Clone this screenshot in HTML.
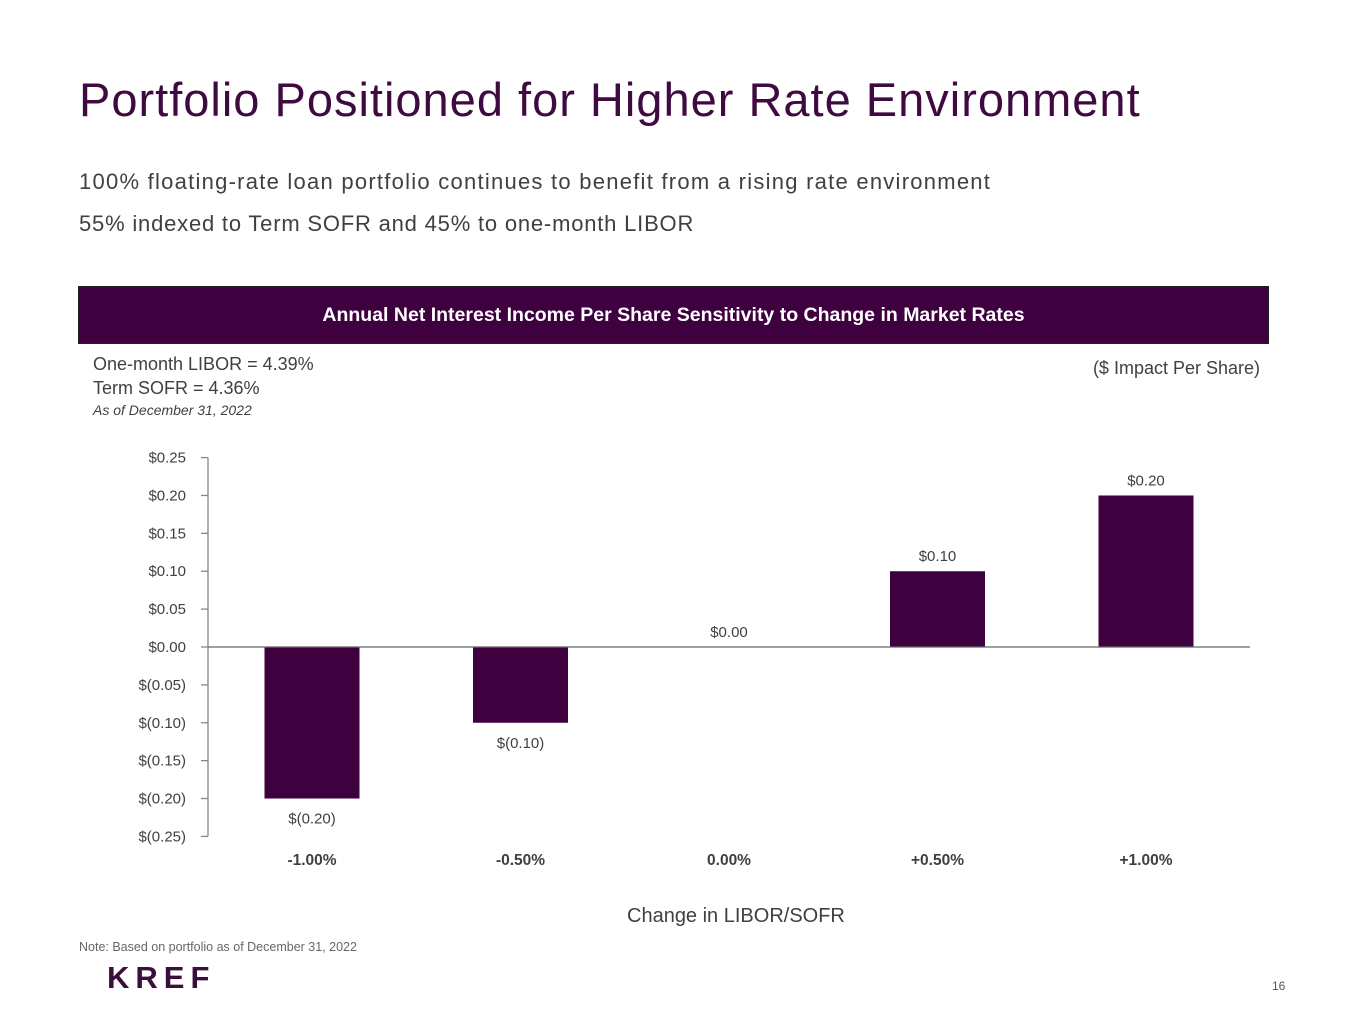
<!DOCTYPE html>
<html><head><meta charset="utf-8"><style>
body{margin:0;width:1365px;height:1024px;background:#fff;font-family:"Liberation Sans",sans-serif;position:relative;overflow:hidden}
.a{position:absolute;white-space:nowrap}
</style></head><body>
<div class="a" style="left:79px;top:72px;font-size:47px;color:#3f0a40;letter-spacing:1px">Portfolio Positioned for Higher Rate Environment</div>
<div class="a" style="left:79px;top:169px;font-size:22px;color:#404040;letter-spacing:1.25px">100% floating-rate loan portfolio continues to benefit from a rising rate environment</div>
<div class="a" style="left:79px;top:211px;font-size:22px;color:#404040;letter-spacing:0.8px">55% indexed to Term SOFR and 45% to one-month LIBOR</div>
<div class="a" style="left:78px;top:286px;width:1189px;height:56px;background:#3f0040;border:1px solid #222;color:#fff;font-weight:bold;font-size:19.5px;text-align:center;line-height:56px">Annual Net Interest Income Per Share Sensitivity to Change in Market Rates</div>
<div class="a" style="left:93px;top:354px;font-size:18px;color:#404040">One-month LIBOR = 4.39%</div>
<div class="a" style="left:93px;top:378px;font-size:18px;color:#404040">Term SOFR = 4.36%</div>
<div class="a" style="left:93px;top:402px;font-size:14px;font-style:italic;color:#404040">As of December 31, 2022</div>
<div class="a" style="right:105px;top:358px;font-size:18px;color:#404040">($ Impact Per Share)</div>
<svg class="a" id="chart" style="left:0;top:0" width="1365" height="1024"></svg>
<div class="a" style="left:627px;top:905px;font-size:20px;color:#404040">Change in LIBOR/SOFR</div>
<div class="a" style="left:79px;top:940px;font-size:12.5px;color:#666">Note: Based on portfolio as of December 31, 2022</div>
<div class="a" style="left:107px;top:960px;font-size:31px;font-weight:bold;color:#3a0f3c;letter-spacing:6px">KREF</div>
<div class="a" style="left:1272px;top:979px;font-size:12px;color:#555">16</div>
<script>
const categories=["-1.00%","-0.50%","0.00%","+0.50%","+1.00%"];
const values=[-0.20,-0.10,0.00,0.10,0.20];
const valueLabels=["$(0.20)","$(0.10)","$0.00","$0.10","$0.20"];
const ticks=[0.25,0.20,0.15,0.10,0.05,0,-0.05,-0.10,-0.15,-0.20,-0.25];
const tickLabels=["$0.25","$0.20","$0.15","$0.10","$0.05","$0.00","$(0.05)","$(0.10)","$(0.15)","$(0.20)","$(0.25)"];
const svg=document.getElementById('chart');const NS='http://www.w3.org/2000/svg';
const y=v=>647-v*757.6;const x=i=>312+i*208.5;
function mk(t,a){const e=document.createElementNS(NS,t);for(const k in a)e.setAttribute(k,a[k]);svg.appendChild(e);return e;}
let ax=mk('line',{x1:208,x2:208,y1:y(0.25),y2:y(-0.25),stroke:'#888','stroke-width':1.3});


ticks.forEach((t,i)=>{
 let l=mk('line',{x1:201,x2:208,y1:y(t),y2:y(t),stroke:'#888','stroke-width':1.3});
 
 
 let tx=mk('text',{x:186,y:y(t)+5,'text-anchor':'end','font-size':15,fill:'#404040','font-family':'Liberation Sans'});
 tx.textContent=tickLabels[i];
 
 
});
values.forEach((v,i)=>{
 let top=Math.min(y(v),y(0)),h=Math.abs(y(v)-y(0));
 let r=mk('rect',{x:x(i)-47.5,y:top,width:95,height:h,fill:'#3f0040'});
 
 
 let ly=v>=0?y(v)-10:y(v)+25;
 let t=mk('text',{x:x(i),y:ly,'text-anchor':'middle','font-size':15,fill:'#404040','font-family':'Liberation Sans'});
 t.textContent=valueLabels[i];
 
 
 let c=mk('text',{x:x(i),y:865,'text-anchor':'middle','font-size':15.5,'font-weight':'bold',fill:'#404040','font-family':'Liberation Sans'});
 c.textContent=categories[i];
 
 
});
let z=mk('line',{x1:208,x2:1250,y1:y(0),y2:y(0),stroke:'#666','stroke-width':1.3});


</script>
</body></html>
